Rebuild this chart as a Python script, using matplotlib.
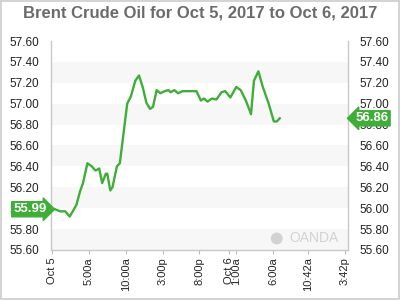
import matplotlib
matplotlib.use("Agg")
import matplotlib.pyplot as plt
from matplotlib.patches import Rectangle, Ellipse

plt.rcParams['font.family'] = ['Liberation Sans', 'DejaVu Sans']

title = "Brent Crude Oil for Oct 5, 2017 to Oct 6, 2017"
hours = [0.4, 1.1, 1.8, 2.4, 3.3, 3.8, 4.2, 4.8, 5.4, 5.9, 6.4, 6.8, 7.3, 7.5, 7.9, 8.2,
         8.8, 9.2, 10.2, 10.7, 11.3, 11.8, 12.3, 12.8, 13.3, 13.7, 14.2, 14.7, 15.3, 15.8,
         16.1, 16.6, 17.1, 17.7, 19.6, 20.2, 20.6, 21.1, 21.7, 22.3, 23.0, 23.5, 24.2,
         25.0, 25.6, 26.3, 27.0, 27.4, 28.0, 28.6, 29.4, 30.1, 30.5, 30.9]
prices = [55.99, 55.97, 55.97, 55.92, 56.03, 56.16, 56.24, 56.43, 56.40, 56.36, 56.38,
          56.24, 56.33, 56.33, 56.17, 56.20, 56.40, 56.43, 57.00, 57.07, 57.22, 57.27,
          57.16, 57.01, 56.95, 56.97, 57.13, 57.10, 57.12, 57.13, 57.11, 57.13, 57.10,
          57.12, 57.12, 57.03, 57.05, 57.02, 57.05, 57.04, 57.11, 57.12, 57.06, 57.16,
          57.13, 57.03, 56.90, 57.22, 57.31, 57.16, 57.00, 56.83, 56.83, 56.86]
tick_hours = [0, 5, 10, 15, 20, 24, 25, 30, 34.7, 39.7]
tick_labels = ["Oct 5", "5:00a", "10:00a", "3:00p", "8:00p", "Oct 6", "1:00a",
               "6:00a", "10:42a", "3:42p"]
y_ticks = [55.60, 55.80, 56.00, 56.20, 56.40, 56.60, 56.80, 57.00, 57.20, 57.40, 57.60]
open_price = 55.99
last_price = 56.86

green = '#3fae38'
fig = plt.figure(figsize=(4, 3), dpi=100)
fig.patch.set_facecolor('white')
fig.patches.append(Rectangle((0.002, 0.003), 0.995, 0.994, transform=fig.transFigure,
                             fill=False, edgecolor='#cccccc', linewidth=1.2))
ax = fig.add_axes([0.1275, 0.1667, 0.7425, 0.6966])
ax.set_xlim(-0.14, 40.16)
ax.set_ylim(55.60, 57.60)

for lo in [55.6, 56.0, 56.4, 56.8, 57.2]:
    ax.axhspan(lo, lo + 0.2, color='#f7f7f7', zorder=0, lw=0)

ax.plot(hours, prices, color=green, lw=1.7, zorder=3)

ax.set_yticks(y_ticks)
ax.set_yticklabels([f"{v:.2f}" for v in y_ticks])
ax.tick_params(axis='y', which='both', left=False, right=False, labelleft=True,
               labelright=True, labelsize=8.5, pad=5, colors='#222222')
ax.set_xticks(tick_hours)
ax.set_xticklabels(tick_labels, rotation=90)
ax.tick_params(axis='x', length=3, labelsize=8, pad=2, colors='#bbbbbb',
               labelcolor='#222222')

ax.spines['top'].set_visible(False)
for s in ['left', 'right', 'bottom']:
    ax.spines[s].set_color('#c8c8c8')
    ax.spines[s].set_linewidth(1)

fig.text(0.5, 0.955, title, ha='center', va='center', fontsize=12, fontweight='bold',
         color='#6b6b6b')

ax.annotate(f"{open_price:.2f}", xy=(-0.015, open_price), xycoords=('axes fraction', 'data'),
            ha='right', va='center', fontsize=9.5, fontweight='bold', color='white',
            bbox=dict(boxstyle='rarrow,pad=0.12', fc=green, ec=green), annotation_clip=False,
            zorder=5)
ax.annotate(f"{last_price:.2f}", xy=(1.025, last_price), xycoords=('axes fraction', 'data'),
            ha='left', va='center', fontsize=9.5, fontweight='bold', color='white',
            bbox=dict(boxstyle='larrow,pad=0.12', fc=green, ec=green), annotation_clip=False,
            zorder=5)

ax.text(0.97, 0.025, "OANDA", transform=ax.transAxes, ha='right', va='bottom',
        fontsize=10, color='#d2d2d2')
ax.add_patch(Ellipse((0.76, 0.055), 0.04, 0.057, transform=ax.transAxes, fc='#d2d2d2',
                     ec='none', zorder=2))

fig.savefig("out.png", dpi=100)
